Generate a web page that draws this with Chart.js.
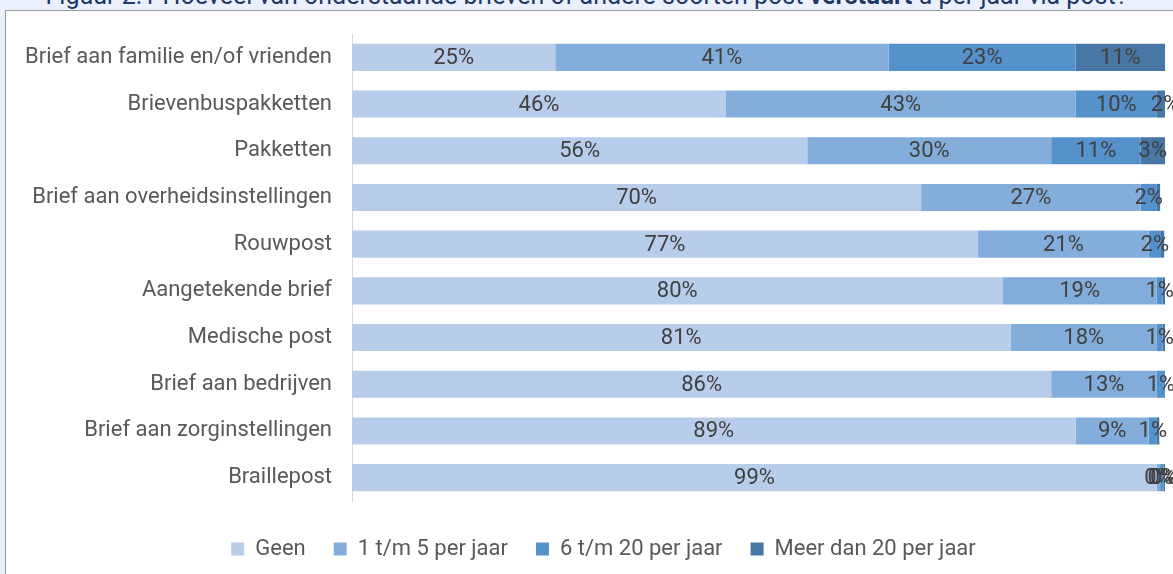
<!DOCTYPE html>
<html>
<head>
<meta charset="utf-8">
<script src="https://cdn.jsdelivr.net/npm/chart.js@4.4.1/dist/chart.umd.min.js"></script>
<style>
  html, body { margin: 0; padding: 0; }
  body { width: 1173px; height: 574px; background: #eaf1fc; position: relative; overflow: hidden; font-family: Roboto, sans-serif; }
  #title { position: absolute; left: 0; width: 1173px; top: -19px; text-align: center; font-size: 25px; color: #1f3864; white-space: nowrap; }
  #panel { position: absolute; left: 5px; top: 10px; right: 0; bottom: 0; background: #fff; border-left: 1px solid #9a9a9a; border-top: 1px solid #9a9a9a; }
  canvas { position: absolute; left: 0; top: 0; }
</style>
</head>
<body>
<div id="title">Figuur 2.1 Hoeveel van onderstaande brieven of andere soorten post <b>verstuurt</b> u per jaar via post?</div>
<div id="panel"><canvas id="chart" width="1167" height="563"></canvas></div>
<script>
const categories = [
    'Brief aan familie en/of vrienden',
    'Brievenbuspakketten',
    'Pakketten',
    'Brief aan overheidsinstellingen',
    'Rouwpost',
    'Aangetekende brief',
    'Medische post',
    'Brief aan bedrijven',
    'Brief aan zorginstellingen',
    'Braillepost'
];
const seriesNames = ['Geen', '1 t/m 5 per jaar', '6 t/m 20 per jaar', 'Meer dan 20 per jaar'];
const geen = [25, 46, 56, 70, 77, 80, 81, 86, 89, 99];
const een5 = [41, 43, 30, 27, 21, 19, 18, 13, 9, 0.4];
const zes20 = [23, 10, 11, 2, 1.5, 0.7, 0.7, 1, 1, 0.4];
const meer20 = [11, 2, 3, 0.4, 0.4, 0.3, 0.3, 0.3, 0.3, 0.2];
const colors = ['#b8cde9', '#83aedc', '#5591ca', '#4877a6'];
// rows where Excel still prints the tiny labels
const showTiny = [false, false, false, false, false, false, false, false, false, true];

const labelPlugin = {
    id: 'segmentLabels',
    afterDatasetsDraw(chart) {
        const ctx = chart.ctx;
        ctx.save();
        ctx.font = '22px Roboto';
        ctx.fillStyle = '#404040';
        ctx.textAlign = 'center';
        ctx.textBaseline = 'middle';
        chart.data.datasets.forEach((ds, di) => {
            const meta = chart.getDatasetMeta(di);
            meta.data.forEach((bar, i) => {
                const v = ds.data[i];
                if (v < 0.5 && !showTiny[i]) return;
                const x = (bar.x + bar.base) / 2;
                ctx.fillText(Math.round(v) + '%', x, bar.y + 1);
            });
        });
        ctx.restore();
    }
};

// legend in the original sits a bit right of centre
const legendShift = {
    id: 'legendShift',
    afterLayout(chart) {
        if (chart.legend) chart.legend.left += 22;
    }
};

new Chart(document.getElementById('chart'), {
    type: 'bar',
    data: {
        labels: categories,
        datasets: [geen, een5, zes20, meer20].map((d, i) => ({
            label: seriesNames[i],
            data: d,
            backgroundColor: colors[i],
            borderWidth: 0,
            barPercentage: 0.58,
            categoryPercentage: 1
        }))
    },
    options: {
        indexAxis: 'y',
        responsive: false,
        animation: false,
        layout: { padding: { left: 14, right: 8, top: 7, bottom: 4 } },
        scales: {
            x: {
                stacked: true, min: 0, max: 100,
                ticks: { display: false },
                grid: { display: false, drawTicks: false },
                border: { display: false },
                afterFit(scale) { scale.height = 9; }
            },
            y: {
                stacked: true,
                grid: { display: false },
                border: { display: true, color: '#d9d9d9', width: 1 },
                ticks: { color: '#595959', font: { size: 22, family: 'Roboto', lineHeight: 1 }, padding: 12 },
                afterFit(scale) { scale.width = 332; }
            }
        },
        plugins: {
            legend: {
                position: 'bottom',
                labels: {
                    color: '#595959',
                    font: { size: 22, family: 'Roboto' },
                    boxWidth: 13,
                    boxHeight: 13,
                    padding: 28
                }
            },
            tooltip: { enabled: false }
        }
    },
    plugins: [labelPlugin, legendShift]
});
</script>
</body>
</html>
